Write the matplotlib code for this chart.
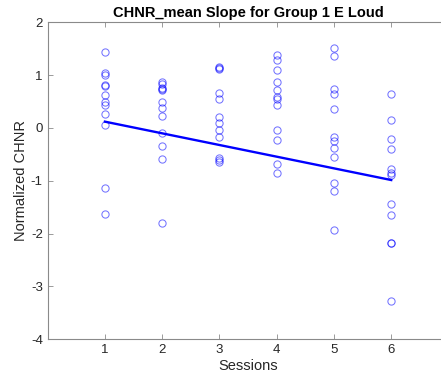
import matplotlib
matplotlib.use("Agg")
import matplotlib.pyplot as plt
import numpy as np

plt.rcParams['font.family'] = ['Liberation Sans', 'DejaVu Sans']

# normalized CHNR values per session
s1 = [1.44, 1.05, 1.01, 0.82, 0.79, 0.62, 0.50, 0.44, 0.26, 0.05, -1.14, -1.62]
s2 = [0.87, 0.84, 0.75, 0.73, 0.72, 0.50, 0.37, 0.23, -0.09, -0.34, -0.59, -1.79]
s3 = [1.16, 1.14, 1.12, 0.67, 0.54, 0.20, 0.10, -0.04, -0.18, -0.57, -0.61, -0.64]
s4 = [1.38, 1.29, 1.10, 0.87, 0.72, 0.58, 0.54, 0.43, -0.04, -0.22, -0.68, -0.85]
s5 = [1.52, 1.36, 0.73, 0.64, 0.36, -0.18, -0.24, -0.37, -0.55, -1.05, -1.19, -1.94]
s6 = [0.64, 0.16, -0.21, -0.39, -0.78, -0.85, -0.89, -1.44, -1.65, -2.17, -2.18, -3.27]
sessions = [1, 2, 3, 4, 5, 6]

# fitted slope line
fit_slope = -0.221
fit_intercept = 0.341

fig = plt.figure(figsize=(4.41, 3.79), dpi=100)
ax = fig.add_axes([0.108, 0.1047, 0.909, 0.8364])

for s, vals in zip(sessions, [s1, s2, s3, s4, s5, s6]):
    ax.plot([s] * len(vals), vals, 'o', mfc='none', mec='blue', alpha=0.55,
            ms=5.2, mew=0.75)

xs = np.array([sessions[0], sessions[-1]])
ax.plot(xs, fit_intercept + fit_slope * xs, color='blue', lw=1.7)

ax.set_xlim(0, 7)
ax.set_ylim(-4, 2)
ax.set_xticks(sessions)
ax.set_yticks(range(-4, 3))
ax.set_yticklabels(['-4', '-3', '-2', '-1', '0', '1', '2'])

for sp in ax.spines.values():
    sp.set_color('#8a8a8a')
    sp.set_linewidth(0.8)
ax.tick_params(direction='in', length=3.5, width=0.6, color='#8a8a8a',
               labelcolor='#262626', labelsize=9.5, top=True, right=True)

ax.set_xlabel('Sessions', fontsize=10.5, color='#262626', labelpad=2)
ax.set_ylabel('Normalized CHNR', fontsize=10.5, color='#262626', labelpad=2)
ax.set_title('CHNR_mean Slope for Group 1 E Loud', fontsize=10.5,
             fontweight='bold', pad=4)

fig.savefig('out.png', dpi=100)
